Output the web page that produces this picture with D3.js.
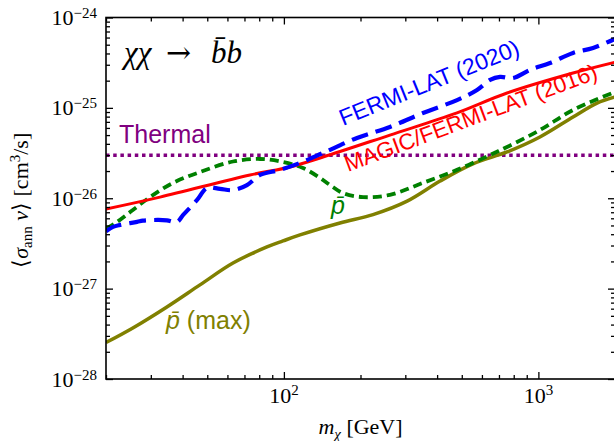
<!DOCTYPE html>
<html>
<head>
<meta charset="utf-8">
<script src="https://cdn.jsdelivr.net/npm/d3@7/dist/d3.min.js"></script>
<style>
  html, body { margin: 0; padding: 0; background: #fff; }
  svg { display: block; }
</style>
</head>
<body>
<svg id="chart" width="614" height="441"></svg>
<script>
// Dark-matter annihilation limits, chi chi -> b bbar channel
// Masses in GeV, cross sections <sigma v> in cm^3/s

const massMagicFermi = [20, 32.6, 73.6, 105.7, 142.5, 261, 479, 753, 1368, 2000];
const sigmaMagicFermi = [7.6e-27, 1.03e-26, 1.81e-26, 2.22e-26, 2.86e-26, 5.0e-26, 8.8e-26, 1.46e-25, 2.43e-25, 3.2e-25];

const massFermi = [20, 21.3, 22.7, 26.5, 27.9, 31.9, 34.7, 38.0, 40.2, 45.6, 49.9, 56.1, 63.1, 71.6, 80.6, 96.5, 115.7, 142.5, 193.8, 261, 352, 479, 574, 646, 707, 795, 927, 1111, 1368, 1640, 2000];
const sigmaFermi = [4.3e-27, 4.82e-27, 5.07e-27, 5.47e-27, 5.65e-27, 5.75e-27, 5.7e-27, 5.47e-27, 6.54e-27, 9.57e-27, 1.30e-26, 1.27e-26, 1.23e-26, 1.40e-26, 1.81e-26, 2.06e-26, 2.46e-26, 3.17e-26, 4.65e-26, 6.15e-26, 8.78e-26, 1.22e-25, 1.58e-25, 2.04e-25, 2.20e-25, 2.14e-25, 2.63e-25, 3.14e-25, 4.05e-25, 4.60e-25, 5.8e-25];

const massPbar = [20, 22.1, 25.5, 29.8, 36.7, 46.8, 63.1, 80.6, 99.2, 118.9, 138.6, 151.8, 170.7, 204.7, 261, 352, 479, 646, 753, 1014, 1368, 2000];
const sigmaPbar = [4.6e-27, 5.47e-27, 7.42e-27, 1.03e-26, 1.48e-26, 1.95e-26, 2.55e-26, 2.72e-26, 2.52e-26, 2.16e-26, 1.68e-26, 1.40e-26, 1.14e-26, 1.03e-26, 1.09e-26, 1.48e-26, 2.06e-26, 3.01e-26, 3.69e-26, 5.69e-26, 9.48e-26, 1.5e-25];

const massPbarMax = [20, 25.5, 34.7, 46.8, 63.1, 85.8, 99.2, 115.7, 166.1, 224, 305, 411, 553, 753, 1014, 1368, 1700, 2000];
const sigmaPbarMax = [2.53e-28, 3.67e-28, 6.27e-28, 1.10e-27, 1.92e-27, 2.89e-27, 3.37e-27, 3.93e-27, 5.33e-27, 6.6e-27, 9.3e-27, 1.55e-26, 2.4e-26, 3.25e-26, 4.76e-26, 7.93e-26, 1.13e-25, 1.32e-25];

const thermalSigma = 3e-26;

const xDomain = [20, 2000];
const yDomain = [1e-28, 1e-24];
const xMajorTicks = [100, 1000];
const xMajorLabels = ["2", "3"];
const yMajorTicks = [1e-28, 1e-27, 1e-26, 1e-25, 1e-24];
const yMajorLabels = ["\u221228", "\u221227", "\u221226", "\u221225", "\u221224"];

const svg = d3.select("#chart");
const plotLeft = 106, plotRight = 615, plotTop = 17.5, plotBottom = 379;

const x = d3.scaleLog().domain(xDomain).range([plotLeft, plotRight]);
const y = d3.scaleLog().domain(yDomain).range([plotBottom, plotTop]);

// minor ticks: 2..9 times each decade inside the domain
function minorTicks(domain) {
  const out = [];
  const lo = Math.floor(Math.log10(domain[0])), hi = Math.ceil(Math.log10(domain[1]));
  for (let e = lo; e < hi; e++) {
    for (let k = 2; k <= 9; k++) {
      const v = k * Math.pow(10, e);
      if (v >= domain[0] * 0.999 && v <= domain[1] * 1.001) out.push(v);
    }
  }
  return out;
}
const xMinor = minorTicks(xDomain);
const yMinor = minorTicks(yDomain);

const clipId = "plotclip";
svg.append("clipPath").attr("id", clipId).append("rect")
  .attr("x", plotLeft).attr("y", plotTop)
  .attr("width", plotRight - plotLeft).attr("height", plotBottom - plotTop);

const curves = svg.append("g").attr("clip-path", `url(#${clipId})`);
const line = d3.line().x(d => x(d[0])).y(d => y(d[1])).curve(d3.curveCatmullRom.alpha(0.5));
const zip = (a, b) => a.map((v, i) => [v, b[i]]);

// thermal relic cross section
curves.append("path")
  .datum([[xDomain[0], thermalSigma], [xDomain[1], thermalSigma]])
  .attr("d", line).attr("fill", "none")
  .attr("stroke", "#800080").attr("stroke-width", 3.5)
  .attr("stroke-dasharray", "3.5,3.7");

// antiproton (max)
curves.append("path")
  .datum(zip(massPbarMax, sigmaPbarMax))
  .attr("d", line).attr("fill", "none")
  .attr("stroke", "#808000").attr("stroke-width", 3.5);

// antiproton
curves.append("path")
  .datum(zip(massPbar, sigmaPbar))
  .attr("d", line).attr("fill", "none")
  .attr("stroke", "#008000").attr("stroke-width", 3.8)
  .attr("stroke-dasharray", "9,5");

// MAGIC/FERMI-LAT (2016)
curves.append("path")
  .datum(zip(massMagicFermi, sigmaMagicFermi))
  .attr("d", line).attr("fill", "none")
  .attr("stroke", "#ff0000").attr("stroke-width", 3);

// FERMI-LAT (2020)
curves.append("path")
  .datum(zip(massFermi, sigmaFermi))
  .attr("d", line).attr("fill", "none")
  .attr("stroke", "#0000ff").attr("stroke-width", 4.2)
  .attr("stroke-dasharray", "17,8");

// axes with inward ticks on all four sides
const axes = svg.append("g");
function addAxis(axisGen, transform) {
  const g = axes.append("g").attr("transform", transform).call(axisGen);
  g.select(".domain").remove();
  g.selectAll(".tick line").attr("stroke", "#000").attr("stroke-width", 1.3);
  g.selectAll(".tick text").remove();
  return g;
}
addAxis(d3.axisBottom(x).tickValues(xMajorTicks).tickSize(-7), `translate(0,${plotBottom})`);
addAxis(d3.axisBottom(x).tickValues(xMinor).tickSize(-4), `translate(0,${plotBottom})`);
addAxis(d3.axisTop(x).tickValues(xMajorTicks).tickSize(-7), `translate(0,${plotTop})`);
addAxis(d3.axisTop(x).tickValues(xMinor).tickSize(-4), `translate(0,${plotTop})`);
addAxis(d3.axisLeft(y).tickValues(yMajorTicks).tickSize(-7), `translate(${plotLeft},0)`);
addAxis(d3.axisLeft(y).tickValues(yMinor).tickSize(-4), `translate(${plotLeft},0)`);
addAxis(d3.axisRight(y).tickValues(yMajorTicks).tickSize(-7), `translate(${plotRight},0)`);
addAxis(d3.axisRight(y).tickValues(yMinor).tickSize(-4), `translate(${plotRight},0)`);

axes.append("rect")
  .attr("x", plotLeft).attr("y", plotTop)
  .attr("width", plotRight - plotLeft).attr("height", plotBottom - plotTop)
  .attr("fill", "none").attr("stroke", "#000").attr("stroke-width", 1.6);

const serif = "'Liberation Serif', 'Times New Roman', serif";
const sans = "'Liberation Sans', Arial, sans-serif";

// tick labels as 10^n
xMajorTicks.forEach((v, i) => {
  const t = svg.append("text")
    .attr("x", x(v)).attr("y", 403)
    .attr("text-anchor", "middle")
    .attr("font-family", serif).attr("font-size", 22).attr("fill", "#000");
  t.append("tspan").text("10");
  t.append("tspan").attr("dy", -8).attr("font-size", 15).text(xMajorLabels[i]);
});
yMajorTicks.forEach((v, i) => {
  const t = svg.append("text")
    .attr("x", 97).attr("y", y(v) + 7.5)
    .attr("text-anchor", "end")
    .attr("font-family", serif).attr("font-size", 22).attr("fill", "#000");
  t.append("tspan").text("10");
  t.append("tspan").attr("dy", -7).attr("font-size", 15).text(yMajorLabels[i]);
});

// axis titles
const xt = svg.append("text")
  .attr("x", (plotLeft + plotRight) / 2).attr("y", 434)
  .attr("text-anchor", "middle")
  .attr("font-family", serif).attr("font-size", 22).attr("fill", "#000");
xt.append("tspan").attr("font-style", "italic").text("m");
xt.append("tspan").attr("font-style", "italic").attr("font-size", 15).attr("dy", 5).text("\u03c7");
xt.append("tspan").attr("dy", -5).text(" [GeV]");

const yt = svg.append("text")
  .attr("transform", `translate(28,${(plotTop + plotBottom) / 2 + 2}) rotate(-90)`)
  .attr("text-anchor", "middle")
  .attr("font-family", serif).attr("font-size", 22).attr("fill", "#000");
yt.append("tspan").text("\u27e8");
yt.append("tspan").attr("font-style", "italic").text("\u03c3");
yt.append("tspan").attr("font-size", 15).attr("dy", 4).text("ann");
yt.append("tspan").attr("dy", -4).attr("font-style", "italic").text(" v");
yt.append("tspan").text("\u27e9 [cm");
yt.append("tspan").attr("font-size", 15).attr("dy", -8).text("3");
yt.append("tspan").attr("dy", 8).text("/s]");

// channel title
const ct = svg.append("text")
  .attr("y", 63)
  .attr("font-family", serif).attr("font-size", 31).attr("fill", "#000");
ct.append("tspan").attr("x", 124).attr("font-style", "italic").text("\u03c7\u03c7");
ct.append("tspan").attr("x", 166).attr("font-family", "'DejaVu Serif', serif").attr("font-size", 30).text("\u2192");
ct.append("tspan").attr("x", 211).attr("font-style", "italic").text("b\u0304b");

// curve labels
svg.append("text")
  .attr("x", 119).attr("y", 143)
  .attr("font-family", sans).attr("font-size", 25).attr("fill", "#800080")
  .text("Thermal");

svg.append("text")
  .attr("transform", "translate(343,126) rotate(-22)")
  .attr("font-family", sans).attr("font-size", 23).attr("fill", "#0000ff")
  .text("FERMI-LAT (2020)");

svg.append("text")
  .attr("transform", "translate(348,172) rotate(-20.5)")
  .attr("font-family", sans).attr("font-size", 22.5).attr("fill", "#ff0000")
  .text("MAGIC/FERMI-LAT (2016)");

svg.append("text")
  .attr("x", 331).attr("y", 214)
  .attr("font-family", sans).attr("font-size", 25).attr("font-style", "italic").attr("fill", "#008000")
  .text("p\u0304");

const pm = svg.append("text")
  .attr("x", 166).attr("y", 329)
  .attr("font-family", sans).attr("font-size", 25).attr("fill", "#808000");
pm.append("tspan").attr("font-style", "italic").text("p\u0304");
pm.append("tspan").text(" (max)");
</script>
</body>
</html>
